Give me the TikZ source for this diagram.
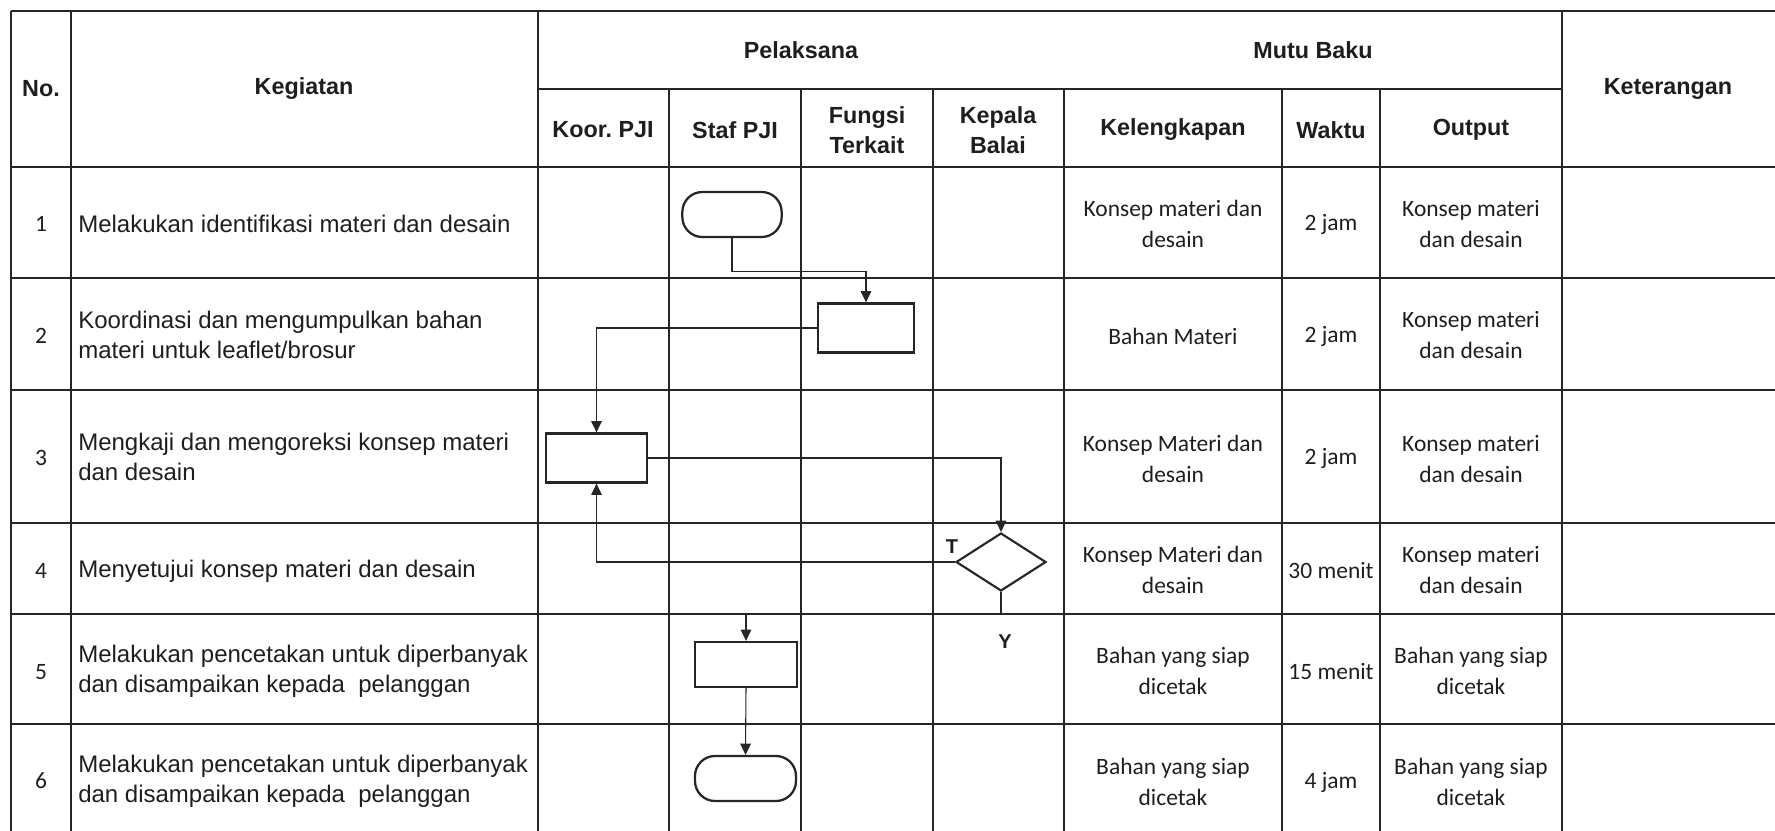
\documentclass[tikz,border=0pt]{standalone}
\usepackage{fontspec}
\setmainfont{Liberation Sans}
\newfontfamily\calfont{Carlito}
\usetikzlibrary{arrows.meta,shapes.geometric}
\definecolor{linec}{HTML}{262626}
\definecolor{txt}{HTML}{1E1E1E}
\begin{document}
\begin{tikzpicture}[x=0.75pt,y=-0.75pt,
  grid/.style={draw=linec,line width=1.7pt},
  hdr/.style={font=\bfseries\fontsize{17.5}{22}\selectfont,align=center,text=txt,inner sep=0pt},
  act/.style={font=\fontsize{18}{22.5}\selectfont,align=left,anchor=west,text=txt,inner sep=0pt},
  cal/.style={font=\calfont\fontsize{17.6}{23.2}\selectfont,align=center,text=txt,inner sep=0pt},
  proc/.style={draw=linec,line width=1.7pt,inner sep=0pt,minimum height=36.75pt},
  term/.style={draw=linec,line width=1.7pt,inner sep=0pt,minimum height=33.75pt,rounded corners=15pt},
  dec/.style={diamond,draw=linec,line width=1.6pt,inner sep=0pt,minimum width=67.5pt,minimum height=43.5pt},
  flow/.style={draw=linec,line width=0.8pt},
  conn/.style={flow,-{Triangle[length=8.5pt,width=8pt]}},
  lab/.style={font=\bfseries\fontsize{15}{18}\selectfont,text=txt,inner sep=0pt}
]
\useasboundingbox (0,0) rectangle (1775,831);

% ---- table grid ----
\foreach \y in {11,167,278,390,523,614,724} \draw[grid] (11,\y) -- (1775,\y);
\draw[grid] (538,89) -- (1562,89);
\foreach \x in {11,71,538,1562} \draw[grid] (\x,11) -- (\x,831);
\foreach \x in {669,801,933,1064,1282,1380} \draw[grid] (\x,89) -- (\x,831);

% ---- headers ----
\node[hdr] (hno) at (41,89) {No.};
\node[hdr] (hkeg) at (304,89) {Kegiatan};
\node[hdr] (hpel) at (801,50) {Pelaksana};
\node[hdr] (hmutu) at (1313,50) {Mutu Baku};
\node[hdr] (hket) at (1668,89) {Keterangan};
\node[hdr] (hkoor) at (603,130) {Koor.\ PJI};
\node[hdr] (hstaf) at (735,130) {Staf PJI};
\node[hdr] (hfung) at (867,130) {Fungsi\\Terkait};
\node[hdr] (hkep) at (998,130) {Kepala\\Balai};
\node[hdr] (hkel) at (1173,130) {Kelengkapan};
\node[hdr] (hwak) at (1331,130) {Waktu};
\node[hdr] (hout) at (1471,130) {Output};

% ---- numbers ----
\node[cal] (n1) at (41,224) {1};
\node[cal] (n2) at (41,336) {2};
\node[cal] (n3) at (41,458) {3};
\node[cal] (n4) at (41,571) {4};
\node[cal] (n5) at (41,672) {5};
\node[cal] (n6) at (41,781) {6};

% ---- activities ----
\node[act] (a1) at (78,224) {Melakukan identifikasi materi dan desain};
\node[act] (a2) at (78,335) {Koordinasi dan mengumpulkan bahan\\materi untuk leaflet/brosur};
\node[act] (a3) at (78,457) {Mengkaji dan mengoreksi konsep materi\\dan desain};
\node[act] (a4) at (78,571) {Menyetujui konsep materi dan desain};
\node[act] (a5) at (78,671) {Melakukan pencetakan untuk diperbanyak\\dan disampaikan kepada\ \ pelanggan};
\node[act] (a6) at (78,781) {Melakukan pencetakan untuk diperbanyak\\dan disampaikan kepada\ \ pelanggan};

% ---- mutu baku ----
\node[cal] (k1) at (1173,224) {Konsep materi dan\\desain};
\node[cal] (w1) at (1331,224) {2 jam};
\node[cal] (o1) at (1471,224) {Konsep materi\\dan desain};
\node[cal] (k2) at (1173,336) {Bahan Materi};
\node[cal] (w2) at (1331,336) {2 jam};
\node[cal] (o2) at (1471,335) {Konsep materi\\dan desain};
\node[cal] (k3) at (1173,459) {Konsep Materi dan\\desain};
\node[cal] (w3) at (1331,458) {2 jam};
\node[cal] (o3) at (1471,459) {Konsep materi\\dan desain};
\node[cal] (k4) at (1173,570) {Konsep Materi dan\\desain};
\node[cal] (w4) at (1331,571) {30 menit};
\node[cal] (o4) at (1471,570) {Konsep materi\\dan desain};
\node[cal] (k5) at (1173,671) {Bahan yang siap\\dicetak};
\node[cal] (w5) at (1331,672) {15 menit};
\node[cal] (o5) at (1471,671) {Bahan yang siap\\dicetak};
\node[cal] (k6) at (1173,782) {Bahan yang siap\\dicetak};
\node[cal] (w6) at (1331,782) {4 jam};
\node[cal] (o6) at (1471,782) {Bahan yang siap\\dicetak};

% ---- flow shapes ----
\node[term,minimum width=74.5pt] (t1) at (732,214.5) {};
\node[proc,minimum width=72pt] (b2) at (866,328) {};
\node[proc,minimum width=75.75pt] (b3) at (596.5,458) {};
\node[dec] (d4) at (1001,562) {};
\node[proc,minimum width=76.5pt,minimum height=33.75pt] (b5) at (746,664.5) {};
\node[term,minimum width=75.75pt] (t6) at (745.5,778.5) {};

\coordinate (yend) at (1001,614);
\coordinate (s5) at (746,614);

% ---- connectors ----
\draw[conn] (t1.south) -- ++(0,33) -| (b2.north);
\draw[conn] (b2.west) -| (b3.north);
\draw[conn] (b3.east) -| (d4.north);
\draw[conn] (d4.west) -| (b3.south);
\draw[flow] (d4.south) -- (yend);
\draw[conn] (s5) -- (b5.north);
\draw[conn] (b5.south) -- (t6.north);

\node[lab] (lt) at (952,547) {T};
\node[lab] (ly) at (1005,642) {Y};
\end{tikzpicture}
\end{document}
